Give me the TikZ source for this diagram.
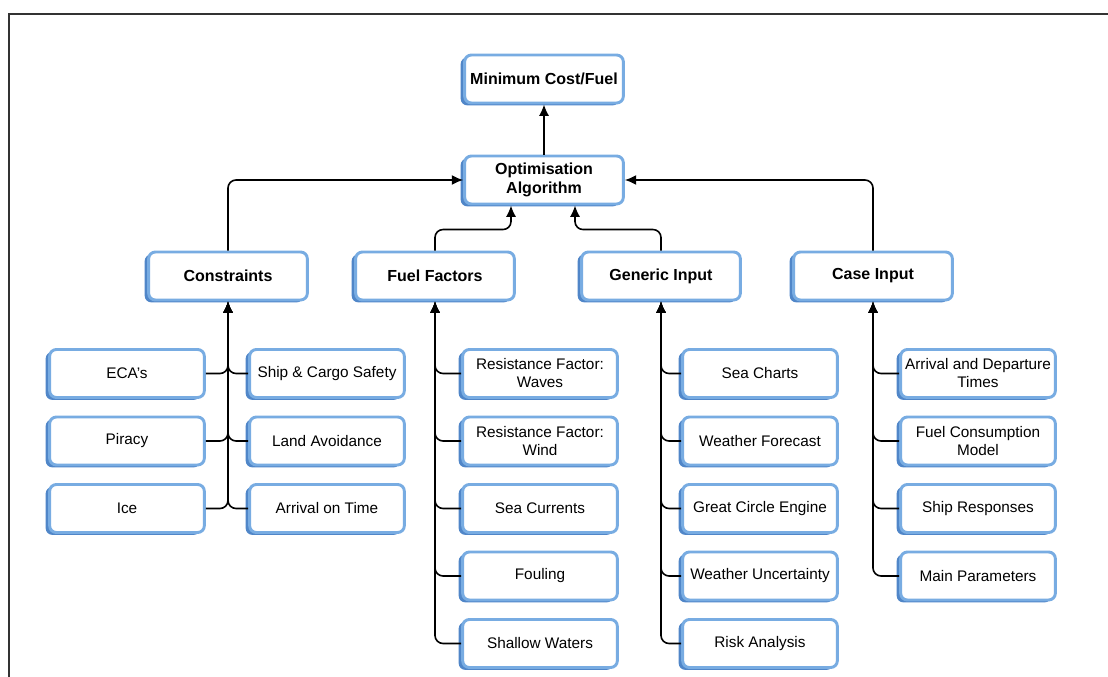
\documentclass[tikz,border=0pt]{standalone}
\usepackage{fontspec}
\setmainfont{Liberation Sans}
\usetikzlibrary{arrows.meta,shadows}
\definecolor{boxblue}{RGB}{120,172,226}
\definecolor{boxshade}{RGB}{80,134,200}
\tikzset{
  box/.style={draw=boxblue, line width=2.2pt, fill=white, rounded corners=5pt,
    minimum width=116pt, minimum height=36pt, inner sep=1pt, align=center,
    font=\fontsize{11.5}{13.5}\selectfont,
    drop shadow={shadow xshift=-3pt, shadow yshift=-1.8pt, fill=boxshade, opacity=1}},
  headbox/.style={box, minimum width=119pt, minimum height=36pt,
    font=\fontsize{12}{14}\selectfont\bfseries},
  link/.style={line width=1.2pt, rounded corners=6pt, -{Latex[length=8.5pt,width=7.5pt]}}
}
\begin{document}
\begin{tikzpicture}[x=0.75pt,y=-0.75pt]
\useasboundingbox (0,0) rectangle (1108,677);
\draw[line width=2.2pt, black!80] (9,677) -- (9,14) -- (1108,14);
% top of the tree
\node[headbox] (mincost) at (544,79) {Minimum Cost/Fuel};
\node[headbox] (opt) at (544,180) {Optimisation\\Algorithm};
\node[headbox] (cons) at (228,276) {Constraints};
\node[headbox] (fuel) at (435,276) {Fuel Factors};
\node[headbox] (gen) at (661,276) {Generic Input};
\node[headbox] (case) at (873,276) {Case Input};
\draw[link] (opt) -- (mincost);
\draw[link] (cons.north) |- (opt.west);
\draw[link] (case.north) |- (opt.east);
\draw[link] (fuel.north) -- ++(0,-21) -| ([xshift=-24.75pt]opt.south);
\draw[link] (gen.north) -- ++(0,-21) -| ([xshift=23.25pt]opt.south);
% constraints
\foreach \n/\t [count=\i] in {c1/ECA's, c2/Piracy, c3/Ice}{
  \node[box] (\n) at (127,{306+67.5*\i}) {\t};
  \draw[link] (\n.east) -| (cons.south);
}
\foreach \n/\t [count=\i] in {d1/Ship \& Cargo Safety, d2/Land Avoidance, d3/Arrival on Time}{
  \node[box] (\n) at (327,{306+67.5*\i}) {\t};
  \draw[link] (\n.west) -| (cons.south);
}
% fuel factors
\foreach \n/\t [count=\i] in {f1/Resistance Factor:\\Waves, f2/Resistance Factor:\\Wind,
    f3/Sea Currents, f4/Fouling, f5/Shallow Waters}{
  \node[box] (\n) at (540,{306+67.5*\i}) {\t};
  \draw[link] (\n.west) -| (fuel.south);
}
% generic input
\foreach \n/\t [count=\i] in {g1/Sea Charts, g2/Weather Forecast, g3/Great Circle Engine,
    g4/Weather Uncertainty, g5/Risk Analysis}{
  \node[box] (\n) at (760,{306+67.5*\i}) {\t};
  \draw[link] (\n.west) -| (gen.south);
}
% case input
\foreach \n/\t [count=\i] in {k1/Arrival and Departure\\Times, k2/Fuel Consumption\\Model,
    k3/Ship Responses, k4/Main Parameters}{
  \node[box] (\n) at (978,{306+67.5*\i}) {\t};
  \draw[link] (\n.west) -| (case.south);
}
\end{tikzpicture}
\end{document}
